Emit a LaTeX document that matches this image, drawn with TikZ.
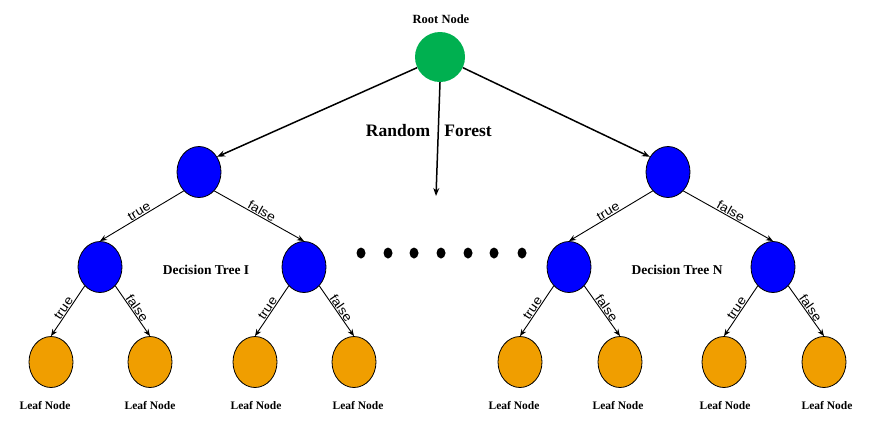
\documentclass[tikz,border=0pt]{standalone}
\usepackage{fontspec}
\setmainfont{Liberation Serif}
\newfontfamily\lsans{Liberation Sans}
\usetikzlibrary{shapes.geometric,arrows.meta}
\definecolor{rootgreen}{RGB}{0,176,80}
\definecolor{treeblue}{RGB}{0,0,255}
\definecolor{leaforange}{RGB}{240,158,0}
\begin{document}
\begin{tikzpicture}[x=1pt,y=-1pt,
  tnode/.style={ellipse,draw=black,line width=0.8pt,minimum width=44pt,minimum height=51pt,inner sep=0pt},
  inner/.style={tnode,fill=treeblue},
  leaf/.style={tnode,fill=leaforange},
  rootn/.style={circle,fill=rootgreen,minimum size=50pt,inner sep=0pt},
  dotn/.style={ellipse,fill=black,minimum width=9pt,minimum height=11pt,inner sep=0pt},
  lbl/.style={font=\bfseries\fontsize{11.5}{12}\selectfont,inner sep=0pt},
  biglbl/.style={font=\bfseries\fontsize{13.5}{14}\selectfont,inner sep=0pt},
  rflbl/.style={font=\bfseries\fontsize{17.5}{18}\selectfont,inner sep=0pt},
  elab/.style={font=\lsans\fontsize{12.5}{13}\selectfont,inner sep=0.6pt},
  thickarrow/.style={line width=1.5pt,-{Stealth[length=8pt,width=6pt]}},
  thinarrow/.style={line width=0.9pt,-{Stealth[length=7pt,width=5.5pt]}}
]
\useasboundingbox (0,0) rectangle (869,432);
% root
\node[rootn] (root) at (440,57) {};
\node[lbl,font=\bfseries\fontsize{12.5}{13}\selectfont] (rootlbl) at (441,19) {Root Node};
\node[rflbl] (rf1) at (398,131) {Random};
\node[rflbl] (rf2) at (468,131) {Forest};
\coordinate (mid) at (436,196);
% level 1
\node[inner] (L1) at (199,172) {};
\node[inner] (R1) at (668,172) {};
% level 2
\node[inner] (LL) at (100,267) {};
\node[inner] (LR) at (304,267) {};
\node[inner] (RL) at (569,267) {};
\node[inner] (RR) at (773,267) {};
% leaves
\foreach \n/\x in {a/51,b/150,c/255,d/354,e/520,f/620,g/724,h/824}{
  \node[leaf] (leaf\n) at (\x,362) {};
}
\foreach \n/\x in {a/45,b/150,c/256,d/358,e/514,f/618,g/725,h/827}{
  \node[lbl] (leaflbl\n) at (\x,405) {Leaf Node};
}
% labels
\node[biglbl] (dtI) at (206,270) {Decision Tree I};
\node[biglbl] (dtN) at (677,270) {Decision Tree N};
% dots
\foreach \i/\x in {1/361,2/388,3/414,4/441,5/468,6/494,7/522}{
  \node[dotn] (dot\i) at (\x,253) {};
}
% root edges
\draw[thickarrow] (root.-155) -- (L1.40);
\draw[thickarrow] (root.-25) -- (R1.140);
\draw[thickarrow] (root.south) -- (mid);
% tree edges
\foreach \p/\l/\r in {L1/LL/LR,R1/RL/RR,LL/leafa/leafb,LR/leafc/leafd,RL/leafe/leaff,RR/leafg/leafh}{
  \draw[thinarrow] (\p.-129) -- (\l.north) node[midway,sloped,above,elab]{\scalebox{1.12}[1]{true}};
  \draw[thinarrow] (\p.-51) -- (\r.north) node[midway,sloped,above,elab]{\scalebox{1.12}[1]{false}};
}
\end{tikzpicture}
\end{document}
